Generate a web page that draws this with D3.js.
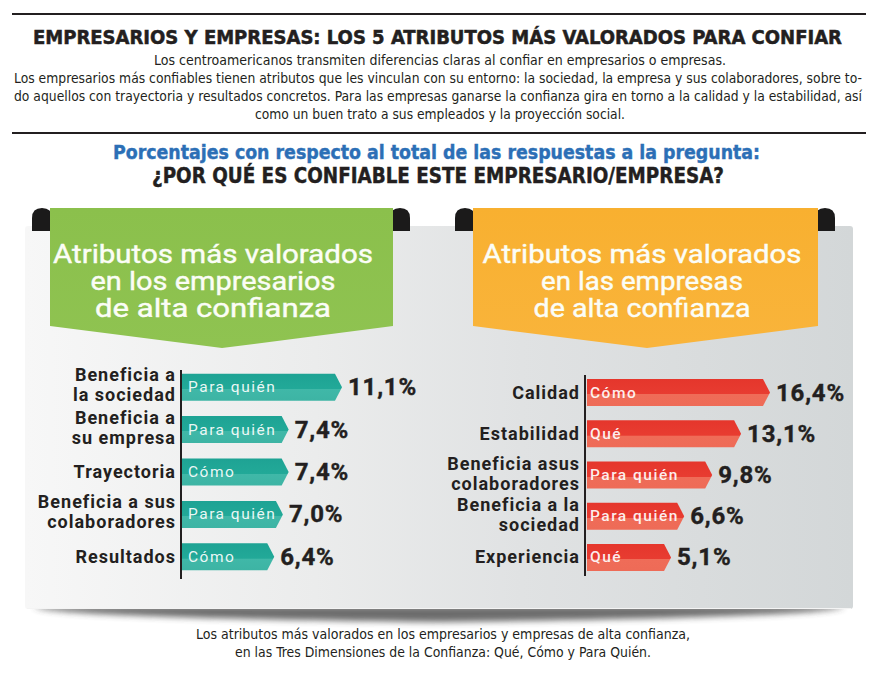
<!DOCTYPE html>
<html><head><meta charset="utf-8">
<script src="https://cdn.jsdelivr.net/npm/d3@7"></script>
<style>body{margin:0;background:#fff}svg{display:block}</style>
</head><body><svg id="c" width="884" height="688"></svg>
<script>
// ---------- data ----------
const titleText = "EMPRESARIOS Y EMPRESAS: LOS 5 ATRIBUTOS MÁS VALORADOS PARA CONFIAR";
const introLines = [
  "Los centroamericanos transmiten diferencias claras al confiar en empresarios o empresas.",
  "Los empresarios más confiables tienen atributos que les vinculan con su entorno: la sociedad, la empresa y sus colaboradores, sobre to-",
  "do aquellos con trayectoria y resultados concretos. Para las empresas ganarse la confianza gira en torno a la calidad y la estabilidad, así",
  "como un buen trato a sus empleados y la proyección social."
];
const questionLines = [
  "Porcentajes con respecto al total de las respuestas a la pregunta:",
  "¿POR QUÉ ES CONFIABLE ESTE EMPRESARIO/EMPRESA?"
];
const leftBanner = ["Atributos más valorados", "en los empresarios", "de alta confianza"];
const rightBanner = ["Atributos más valorados", "en las empresas", "de alta confianza"];
const leftCategories = [["Beneficia a", "la sociedad"], ["Beneficia a", "su empresa"], ["Trayectoria"], ["Beneficia a sus", "colaboradores"], ["Resultados"]];
const leftValues = [11.1, 7.4, 7.4, 7.0, 6.4];
const leftDimensions = ["Para quién", "Para quién", "Cómo", "Para quién", "Cómo"];
const rightCategories = [["Calidad"], ["Estabilidad"], ["Beneficia asus", "colaboradores"], ["Beneficia a la", "sociedad"], ["Experiencia"]];
const rightValues = [16.4, 13.1, 9.8, 6.6, 5.1];
const rightDimensions = ["Cómo", "Qué", "Para quién", "Para quién", "Qué"];
const captionLines = [
  "Los atributos más valorados en los empresarios y empresas de alta confianza,",
  "en las Tres Dimensiones de la Confianza: Qué, Cómo y Para Quién."
];

// ---------- drawing ----------
const svg = d3.select("#c");
const defs = svg.append("defs");
const NARROW = "'Liberation Sans Narrow','DejaVu Sans Condensed','Roboto',sans-serif";
const SANS = "Roboto,'Open Sans',sans-serif";
const INK = "#231f20";
const fmt = v => d3.format(".1f")(v).replace(".", ",") + "%";

function grad(id, stops, vertical) {
  const g = defs.append("linearGradient").attr("id", id)
    .attr("x1", 0).attr("y1", 0).attr("x2", vertical ? 0 : 1).attr("y2", vertical ? 1 : 0);
  stops.forEach(s => g.append("stop").attr("offset", s[0]).attr("stop-color", s[1]));
}
grad("panelG", [[0, "#f7f7f7"], [0.35, "#ebecec"], [0.6, "#e0e2e3"], [1, "#d3d7d8"]], false);
grad("tealG", [[0, "#1ea394"], [0.56, "#22a998"], [0.57, "#40b8a8"], [1, "#3db4a4"]], true);
grad("redG", [[0, "#e5362c"], [0.56, "#e83c31"], [0.57, "#ef6c58"], [1, "#ee6b57"]], true);
grad("greenG", [[0, "#8bc04c"], [1, "#8fc351"]], true);
grad("orangeG", [[0, "#f8b030"], [1, "#f9b43b"]], true);
defs.append("filter").attr("id", "blur").attr("x", "-10%").attr("y", "-100%").attr("width", "120%").attr("height", "300%")
  .append("feGaussianBlur").attr("stdDeviation", 3);

// header rules + title
[14, 133].forEach(y => svg.append("line").attr("x1", 12).attr("x2", 866).attr("y1", y).attr("y2", y)
  .attr("stroke", INK).attr("stroke-width", 2.2));
svg.append("text").attr("x", 33).attr("y", 44).attr("textLength", 809).attr("lengthAdjust", "spacingAndGlyphs")
  .attr("font-family", NARROW).attr("font-weight", 700).attr("font-size", 20).attr("fill", INK)
  .attr("stroke", INK).attr("stroke-width", 0.5).text(titleText);

const introX = [154, 14, 14, 255], introW = [572, 848, 848, 370], introY = [65, 83, 101, 119];
introLines.forEach((t, i) => svg.append("text").attr("x", introX[i]).attr("y", introY[i])
  .attr("textLength", introW[i]).attr("lengthAdjust", "spacingAndGlyphs")
  .attr("font-family", NARROW).attr("font-size", 13.5).attr("fill", INK).text(t));

svg.append("text").attr("x", 113).attr("y", 159).attr("textLength", 647).attr("lengthAdjust", "spacingAndGlyphs")
  .attr("font-family", NARROW).attr("font-weight", 700).attr("font-size", 20).attr("fill", "#2c6fb6")
  .attr("stroke", "#2c6fb6").attr("stroke-width", 0.4).text(questionLines[0]);
svg.append("text").attr("x", 152).attr("y", 183).attr("textLength", 572).attr("lengthAdjust", "spacingAndGlyphs")
  .attr("font-family", NARROW).attr("font-weight", 700).attr("font-size", 21).attr("fill", INK)
  .attr("stroke", INK).attr("stroke-width", 0.4).text(questionLines[1]);

// panel with bottom shadow
svg.append("path").attr("d", "M34,606 L844,606 Q840,617 439,622 Q38,617 34,606 Z")
  .attr("fill", "#3a3a3a").attr("opacity", 0.75).attr("filter", "url(#blur)");
svg.append("rect").attr("x", 25).attr("y", 226).attr("width", 828).attr("height", 383).attr("rx", 3)
  .attr("fill", "url(#panelG)");
svg.append("line").attr("x1", 27).attr("x2", 851).attr("y1", 608.5).attr("y2", 608.5)
  .attr("stroke", "#f4f4f4").attr("stroke-width", 1);

// banners
function banner(x0, x1, tipX, lines, fill, widths, cx) {
  const tab = x => `M${x},231 V218 Q${x},208 ${x + 10},208 Q${x + 20},208 ${x + 20},218 V231 Z`;
  svg.append("path").attr("d", tab(x0 - 18)).attr("fill", "#1b1a1a");
  svg.append("path").attr("d", tab(x1 - 3)).attr("fill", "#1b1a1a");
  svg.append("path").attr("d", `M${x0},208 H${x1} V326 L${tipX},348 L${x0},326 Z`).attr("fill", fill);
  lines.forEach((t, i) => svg.append("text").attr("x", cx).attr("y", 263 + i * 27)
    .attr("text-anchor", "middle").attr("textLength", widths[i]).attr("lengthAdjust", "spacingAndGlyphs")
    .attr("font-family", SANS).attr("font-weight", 400).attr("font-size", 25).attr("fill", "#fbfdf6")
    .attr("stroke", "#fbfdf6").attr("stroke-width", 0.4).text(t));
}
banner(50, 393, 222, leftBanner, "url(#greenG)", [320, 245, 236], 213);
banner(473, 818, 647, rightBanner, "url(#orangeG)", [319, 202, 217], 642);

// bar panels
function barPanel(cfg) {
  const y = d3.scaleBand().domain(d3.range(cfg.values.length)).range(cfg.yRange);
  const x = d3.scaleLinear().domain(cfg.domain).range(cfg.xRange);
  const h = 27, tip = 7;
  const g = svg.append("g");
  const rows = g.selectAll("g.row").data(cfg.values).join("g").attr("class", "row")
    .attr("transform", (d, i) => `translate(0,${y(i) + y.bandwidth() / 2})`);
  rows.append("path").attr("fill", cfg.fill).attr("d", d => {
    const a = x(cfg.domain[0]), b = x(d);
    return `M${a},${-h / 2} H${b - tip} L${b},0 L${b - tip},${h / 2} H${a} Z`;
  });
  rows.append("text").attr("x", x(cfg.domain[0]) + cfg.dimPad).attr("y", 5)
    .attr("font-family", SANS).attr("font-size", 15.5).attr("font-weight", cfg.dimWeight)
    .attr("letter-spacing", 1.5).attr("fill", "#ffffff").attr("fill-opacity", 0.92)
    .text((d, i) => cfg.dims[i]);
  rows.append("text").attr("x", d => x(d) + 6).attr("y", 8)
    .attr("font-family", SANS).attr("font-size", 24).attr("font-weight", 700).attr("fill", INK)
    .attr("letter-spacing", 0.8).attr("stroke", INK).attr("stroke-width", 0.4)
    .text(d => fmt(d));
  rows.each(function (d, i) {
    const lines = cfg.cats[i];
    const t = d3.select(this).append("text").attr("text-anchor", "end")
      .attr("font-family", SANS).attr("font-size", 18).attr("font-weight", 700).attr("fill", INK)
      .attr("letter-spacing", 1);
    const offs = lines.length === 1 ? [6] : cfg.twoLine;
    lines.forEach((l, k) => t.append("tspan").attr("x", cfg.axisX - 5).attr("y", offs[k]).text(l));
  });
  g.append("line").attr("x1", cfg.axisX).attr("x2", cfg.axisX)
    .attr("y1", cfg.axisY[0]).attr("y2", cfg.axisY[1]).attr("stroke", INK).attr("stroke-width", 2);
}
barPanel({ values: leftValues, cats: leftCategories, dims: leftDimensions, fill: "url(#tealG)",
  domain: [0, 11.1], xRange: [182, 342], yRange: [366, 578], axisX: 181, axisY: [370, 579],
  twoLine: [-6, 14], dimPad: 6, dimWeight: 400 });
barPanel({ values: rightValues, cats: rightCategories, dims: rightDimensions, fill: "url(#redG)",
  domain: [-4.5, 16.4], xRange: [587, 770], yRange: [372, 578], axisX: 585, axisY: [375, 576],
  twoLine: [-5, 15], dimPad: 3, dimWeight: 500 });

// caption
const capX = [196, 235], capW = [494, 416], capY = [639, 657];
captionLines.forEach((t, i) => svg.append("text").attr("x", capX[i]).attr("y", capY[i])
  .attr("textLength", capW[i]).attr("lengthAdjust", "spacingAndGlyphs")
  .attr("font-family", NARROW).attr("font-size", 13.5).attr("fill", INK).text(t));
</script></body></html>
